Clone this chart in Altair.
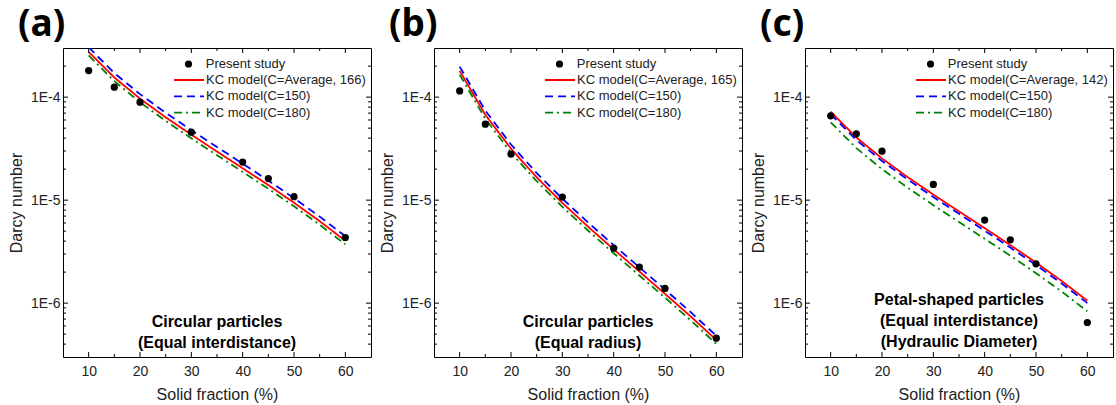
import altair as alt
import pandas as pd

# ---------------- data ----------------
sf_points = [10, 15, 20, 30, 40, 45, 50, 60]
da_points_a = [1.81e-4, 1.25e-4, 8.94e-5, 4.57e-5, 2.34e-5, 1.62e-5, 1.08e-5, 4.34e-6]
da_points_b = [1.15e-4, 5.47e-5, 2.80e-5, 1.07e-5, 3.42e-6, 2.24e-6, 1.39e-6, 4.57e-7]
da_points_c = [6.58e-5, 4.40e-5, 2.99e-5, 1.42e-5, 6.40e-6, 4.12e-6, 2.41e-6, 6.49e-7]

sf_curve = [10, 15, 20, 25, 30, 35, 40, 45, 50, 55, 60]
kc_avg_a = [2.75e-4, 1.55e-4, 9.67e-5, 6.37e-5, 4.32e-5, 2.96e-5, 2.04e-5, 1.40e-5, 9.44e-6, 6.25e-6, 4.03e-6]
kc150_a = [3.05e-4, 1.71e-4, 1.07e-4, 7.05e-5, 4.78e-5, 3.28e-5, 2.26e-5, 1.55e-5, 1.045e-5, 6.92e-6, 4.46e-6]
kc180_a = [2.54e-4, 1.43e-4, 8.92e-5, 5.88e-5, 3.98e-5, 2.73e-5, 1.88e-5, 1.29e-5, 8.71e-6, 5.77e-6, 3.72e-6]
kc_avg_b = [1.80e-4, 6.73e-5, 3.16e-5, 1.665e-5, 9.40e-6, 5.53e-6, 3.33e-6, 2.03e-6, 1.23e-6, 7.43e-7, 4.38e-7]
kc150_b = [1.98e-4, 7.40e-5, 3.47e-5, 1.83e-5, 1.034e-5, 6.08e-6, 3.66e-6, 2.23e-6, 1.356e-6, 8.17e-7, 4.82e-7]
kc180_b = [1.65e-4, 6.17e-5, 2.89e-5, 1.526e-5, 8.62e-6, 5.07e-6, 3.05e-6, 1.857e-6, 1.13e-6, 6.81e-7, 4.02e-7]
kc_avg_c = [7.22e-5, 4.06e-5, 2.54e-5, 1.673e-5, 1.133e-5, 7.77e-6, 5.35e-6, 3.66e-6, 2.477e-6, 1.641e-6, 1.057e-6]
kc150_c = [6.83e-5, 3.84e-5, 2.40e-5, 1.584e-5, 1.073e-5, 7.36e-6, 5.06e-6, 3.46e-6, 2.345e-6, 1.553e-6, 1.0e-6]
kc180_c = [5.70e-5, 3.20e-5, 2.00e-5, 1.32e-5, 8.94e-6, 6.13e-6, 4.22e-6, 2.89e-6, 1.954e-6, 1.295e-6, 8.34e-7]

panel_letters = ["(a)", "(b)", "(c)"]
avg_labels = ["KC model(C=Average, 166)", "KC model(C=Average, 165)", "KC model(C=Average, 142)"]
other_labels = ["KC model(C=150)", "KC model(C=180)"]
notes = [
    "Circular particles\n(Equal interdistance)",
    "Circular particles\n(Equal radius)",
    "Petal-shaped particles\n(Equal interdistance)\n(Hydraulic Diameter)",
]
point_label = "Present study"
x_title = "Solid fraction (%)"
y_title = "Darcy number"

x_major = [10, 20, 30, 40, 50, 60]
x_minor = [15, 25, 35, 45, 55]
y_major = [1e-6, 1e-5, 1e-4]
y_minor = [m * 1e-7 for m in range(4, 10)] + [m * 1e-6 for m in range(2, 10)] \
    + [m * 1e-5 for m in range(2, 10)] + [2e-4]

# ---------------- styling ----------------
FONT = "Liberation Sans"
TXT = "#222222"
W, H = 308, 309
LINE_COLORS = ["#ff0000", "#0000ff", "#008000"]
LINE_DASHES = [[1, 0], [8, 5], [8, 4, 2, 4]]
XS = alt.Scale(domain=[5, 65], nice=False, zero=False)
YS = alt.Scale(type="log", domain=[3e-7, 3e-4], nice=False)
XAX = alt.Axis(values=x_major, labelFontSize=14, labelFont=FONT, labelColor=TXT,
               ticks=False, tickSize=0, domain=False, grid=False, labelPadding=7,
               titleFont=FONT, titleFontSize=16, titleFontWeight="normal",
               titleColor=TXT, titlePadding=8)
YAX = alt.Axis(values=y_major, labelExpr="'1E' + round(log(datum.value) / LN10)",
               labelFontSize=14, labelFont=FONT, labelColor=TXT,
               ticks=False, tickSize=0, domain=False, grid=False, labelPadding=3,
               titleFont=FONT, titleFontSize=16, titleFontWeight="normal",
               titleColor=TXT, titlePadding=6)


def xenc(field):
    return alt.X(field, scale=XS, axis=XAX, title=x_title)


def yenc(field):
    return alt.Y(field, scale=YS, axis=YAX, title=y_title)


def tick_layers():
    layers = []
    for vals, L in ((x_major, 5), (x_minor, 3)):
        base = alt.Chart(pd.DataFrame({"v": vals})).mark_rule(color="black", strokeWidth=1)
        layers.append(base.encode(x=xenc("v:Q"), y=alt.value(H), y2=alt.value(H - L)))
        layers.append(base.encode(x=xenc("v:Q"), y=alt.value(0), y2=alt.value(L)))
    for vals, L in ((y_major, 5), (y_minor, 3)):
        base = alt.Chart(pd.DataFrame({"v": vals})).mark_rule(color="black", strokeWidth=1)
        layers.append(base.encode(y=yenc("v:Q"), x=alt.value(0), x2=alt.value(L)))
        layers.append(base.encode(y=yenc("v:Q"), x=alt.value(W), x2=alt.value(W - L)))
    return layers


def panel(i, pts, avg, c150, c180):
    labels = [avg_labels[i]] + other_labels
    rows = []
    for lab, ys in zip(labels, [avg, c150, c180]):
        for x, y in zip(sf_curve, ys):
            rows.append({"sf": x, "da": y, "model": lab})
    curves = pd.DataFrame(rows)
    pts_df = pd.DataFrame({"sf": sf_points, "da": pts, "src": [point_label] * len(pts)})

    lg_lines = alt.Legend(orient="none", legendX=110, legendY=25, title=None,
                          symbolType="stroke", symbolSize=900, symbolStrokeWidth=1.8,
                          labelFont=FONT, labelFontSize=13, labelColor=TXT,
                          labelOffset=1, clipHeight=14, rowPadding=2.3, padding=0,
                          labelLimit=400)
    lines = alt.Chart(curves).mark_line(strokeWidth=1.8, clip=True).encode(
        x=xenc("sf:Q"),
        y=yenc("da:Q"),
        color=alt.Color("model:N", scale=alt.Scale(domain=labels, range=LINE_COLORS),
                        legend=lg_lines),
        strokeDash=alt.StrokeDash("model:N", scale=alt.Scale(domain=labels, range=LINE_DASHES),
                                  legend=lg_lines),
    )
    points = alt.Chart(pts_df).mark_point(filled=True, size=52, color="black", opacity=1).encode(
        x=xenc("sf:Q"),
        y=yenc("da:Q"),
        shape=alt.Shape("src:N", scale=alt.Scale(domain=[point_label], range=["circle"]),
                        legend=alt.Legend(orient="none", legendX=119, legendY=9,
                                          title=None, symbolSize=52,
                                          symbolFillColor="black", symbolStrokeColor="black",
                                          labelFont=FONT, labelFontSize=13,
                                          labelColor=TXT, labelOffset=10.8,
                                          clipHeight=14, padding=0)),
    )
    n_lines = notes[i].count("\n") + 1
    note = alt.Chart(pd.DataFrame({"t": [notes[i]]})).mark_text(
        font=FONT, fontSize=16, fontWeight="bold", lineBreak="\n", lineHeight=21,
        align="center", baseline="middle", color="black",
    ).encode(text="t:N", x=alt.value(W / 2),
             y=alt.value(273.7 if n_lines == 2 else 252))
    letter = alt.Chart(pd.DataFrame({"t": [panel_letters[i]]})).mark_text(
        font="Noto Sans", fontSize=37, fontWeight="bold", align="left",
        baseline="alphabetic", color="black",
    ).encode(text="t:N", x=alt.value(-45), y=alt.value(-12))

    return alt.layer(lines, points, note, letter, *tick_layers()).properties(width=W, height=H)


pa = panel(0, da_points_a, kc_avg_a, kc150_a, kc180_a)
pb = panel(1, da_points_b, kc_avg_b, kc150_b, kc180_b)
pc = panel(2, da_points_c, kc_avg_c, kc150_c, kc180_c)

chart = alt.hconcat(
    pa, pb, pc, spacing=63, bounds="flush",
    padding={"left": 7, "top": 5, "right": 0, "bottom": 0},
).resolve_scale(
    color="independent", strokeDash="independent", shape="independent"
).resolve_legend(
    color="independent", strokeDash="independent", shape="independent"
).configure(
    background="white"
).configure_view(
    stroke="black", strokeWidth=1
)

chart.save("out.html", embed_options={"renderer": "svg", "actions": False})
